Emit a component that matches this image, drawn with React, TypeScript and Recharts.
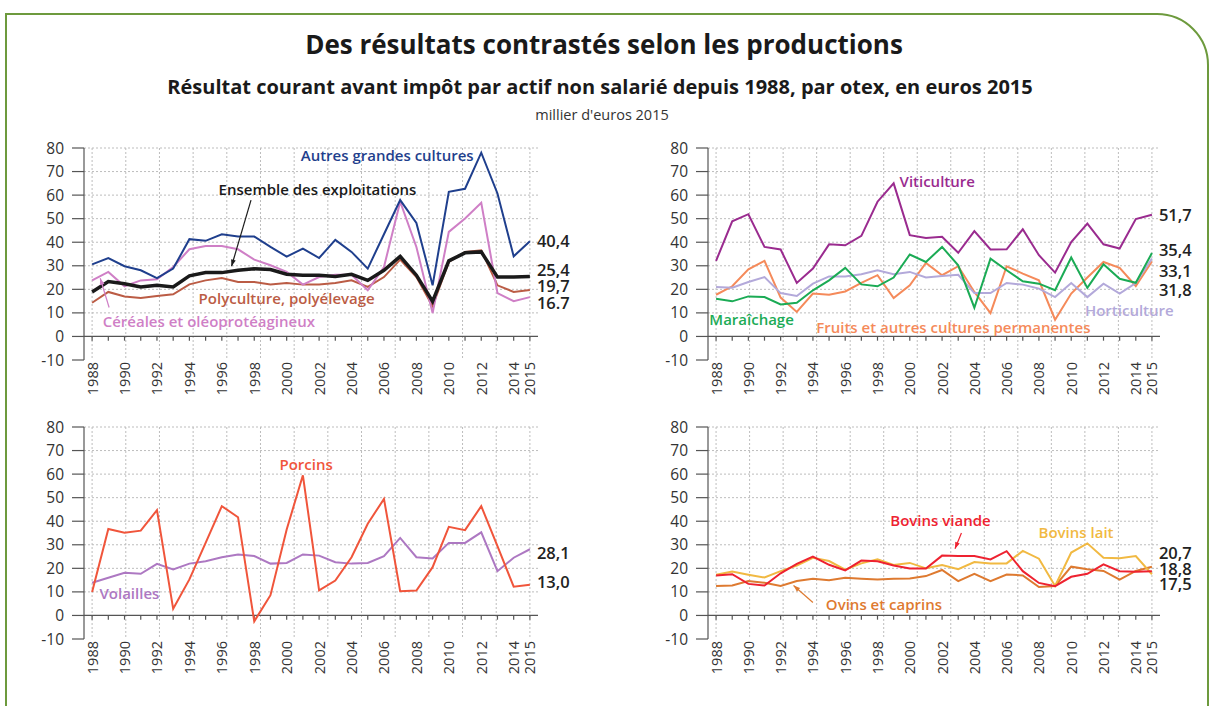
import React from 'react'
import { LineChart, Line, XAxis, YAxis, CartesianGrid, ReferenceLine, ReferenceDot } from 'recharts'

// thousand euros 2015, 1988 -> 2015
const years = [
  1988, 1989, 1990, 1991, 1992, 1993, 1994, 1995, 1996, 1997, 1998, 1999, 2000, 2001,
  2002, 2003, 2004, 2005, 2006, 2007, 2008, 2009, 2010, 2011, 2012, 2013, 2014, 2015,
]
const labelledYears = [1988, 1990, 1992, 1994, 1996, 1998, 2000, 2002, 2004, 2006, 2008, 2010, 2012, 2014, 2015]
const yTicks = [-10, 0, 10, 20, 30, 40, 50, 60, 70, 80]

const autresGrandesCultures = [30.6, 33.3, 29.8, 28.1, 24.8, 28.8, 41.3, 40.6, 43.4, 42.4, 42.4, 38.0, 33.9, 37.3, 33.3, 41.0, 35.9, 28.8, 43.4, 57.9, 48.2, 21.7, 61.4, 62.7, 78.0, 60.7, 34.0, 40.4]
const cereales = [23.8, 27.4, 21.3, 23.8, 24.3, 29.5, 37.0, 38.4, 38.4, 37.0, 32.6, 30.2, 27.4, 22.0, 25.2, 26.2, 26.2, 19.6, 29.5, 57.2, 38.0, 9.9, 44.4, 50.1, 56.7, 18.4, 15.0, 16.7]
const ensemble = [18.9, 23.3, 22.4, 21.0, 21.7, 21.0, 25.7, 27.1, 27.1, 28.1, 28.7, 28.4, 26.4, 26.0, 26.0, 25.5, 26.4, 23.8, 28.1, 34.0, 26.0, 14.9, 32.1, 35.5, 35.9, 25.2, 25.2, 25.4]
const polyculture = [14.3, 18.9, 17.0, 16.3, 17.2, 17.9, 22.1, 23.8, 24.8, 23.1, 23.1, 22.1, 22.7, 22.0, 22.1, 22.7, 23.8, 21.0, 25.2, 32.6, 25.2, 12.9, 31.6, 35.9, 36.6, 21.7, 18.9, 19.7]

const viticulture = [32.1, 48.9, 51.9, 38.0, 36.9, 22.7, 28.8, 39.1, 38.7, 42.7, 57.2, 65.0, 43.0, 41.8, 42.3, 35.5, 44.7, 36.9, 37.0, 45.5, 34.5, 27.1, 40.1, 47.9, 39.1, 37.3, 49.8, 51.7]
const maraichage = [16.0, 14.9, 17.0, 16.7, 13.6, 14.3, 19.6, 23.8, 29.1, 22.1, 21.3, 25.0, 34.8, 31.6, 38.0, 30.2, 12.2, 33.0, 28.1, 23.4, 22.4, 19.6, 33.5, 20.6, 30.6, 24.5, 22.8, 35.4]
const fruits = [17.7, 21.3, 28.5, 32.1, 16.5, 10.4, 18.2, 17.7, 19.1, 22.7, 26.0, 16.3, 21.7, 31.2, 26.0, 29.8, 18.9, 9.9, 29.8, 26.7, 23.8, 7.1, 18.2, 25.0, 31.6, 29.1, 21.4, 31.8]
const horticulture = [21.0, 20.7, 23.1, 25.2, 18.4, 17.2, 22.4, 25.5, 25.5, 26.4, 28.1, 26.4, 27.4, 25.0, 25.7, 26.2, 18.4, 18.4, 22.7, 22.0, 20.3, 16.7, 22.7, 16.7, 22.4, 18.2, 22.7, 33.1]

const porcins = [10.0, 36.7, 35.1, 36.0, 44.7, 2.8, 15.3, 30.8, 46.4, 41.7, -2.5, 8.6, 36.5, 59.5, 10.6, 14.8, 24.7, 38.9, 49.5, 10.3, 10.6, 20.5, 37.6, 36.2, 46.4, 29.4, 12.2, 13.0]
const volailles = [13.9, 16.0, 18.1, 17.7, 21.9, 19.5, 22.0, 23.0, 24.7, 25.9, 25.2, 22.0, 22.3, 25.9, 25.4, 22.6, 22.0, 22.3, 25.2, 32.9, 24.7, 24.2, 30.8, 30.8, 35.3, 18.8, 24.5, 28.1]

const bovinsViande = [17.0, 17.5, 13.4, 12.7, 17.9, 21.9, 25.0, 21.5, 19.1, 23.3, 23.0, 21.2, 19.9, 19.9, 25.4, 25.2, 25.2, 23.8, 27.3, 18.8, 13.8, 12.4, 16.4, 17.7, 21.7, 18.8, 18.6, 18.8]
const bovinsLait = [17.3, 18.6, 17.3, 16.1, 18.8, 21.2, 24.5, 23.1, 19.4, 22.1, 23.8, 21.4, 22.3, 20.0, 21.4, 19.6, 22.7, 22.1, 22.1, 27.4, 24.1, 12.5, 26.7, 30.6, 24.5, 24.3, 25.2, 17.5]
const ovins = [12.5, 12.7, 14.6, 13.9, 12.5, 14.6, 15.6, 14.9, 16.0, 15.6, 15.3, 15.6, 15.7, 16.7, 19.3, 14.6, 17.7, 14.6, 17.4, 17.0, 12.1, 12.5, 20.7, 19.6, 18.9, 15.2, 18.9, 20.7]

const rows = years.map((year, i) => ({
  year,
  agc: autresGrandesCultures[i],
  cer: cereales[i],
  ens: ensemble[i],
  poly: polyculture[i],
  viti: viticulture[i],
  mara: maraichage[i],
  fruit: fruits[i],
  horti: horticulture[i],
  porc: porcins[i],
  vol: volailles[i],
  bv: bovinsViande[i],
  bl: bovinsLait[i],
  ov: ovins[i],
}))

// 14 dotted verticals spread evenly from first to last year, as in the source
const gridX = Array.from({ length: 14 }, (_, i) => 1988 + (i * 27) / 13)
const gridY = [10, 20, 30, 40, 50, 60, 70, 80]

const FONT = "'Open Sans', 'Noto Sans', sans-serif"
const AXIS = '#555'

type Serie = { key: string; color: string; width?: number; end: string; dy: number }
type Note = { text: string; x: number; y: number; color: string }
type Pointer = { from: [number, number]; to: [number, number]; color: string }

const YearTick = (props: any) => {
  const { x, y, payload } = props
  if (!labelledYears.includes(payload.value)) return <g />
  return (
    <text
      x={x}
      y={y}
      transform={`rotate(-90, ${x}, ${y})`}
      textAnchor="end"
      dominantBaseline="central"
      fill="#333"
      fontSize={14.5}
    >
      {payload.value}
    </text>
  )
}

const endLabel = (text: string, dy: number) => (props: any) => {
  const { x, y, index } = props
  if (index !== years.length - 1) return <g />
  return (
    <text x={x + 7} y={y + dy} dominantBaseline="central" fill="#222" fontSize={16.5} fontWeight={600}>
      {text}
    </text>
  )
}

const ArrowShape = (p: any) => {
  const { x1, y1, x2, y2, stroke } = p
  const a = Math.atan2(y2 - y1, x2 - x1)
  const h = 7
  const l = [x2 - h * Math.cos(a - 0.35), y2 - h * Math.sin(a - 0.35)]
  const r = [x2 - h * Math.cos(a + 0.35), y2 - h * Math.sin(a + 0.35)]
  return (
    <g>
      <line x1={x1} y1={y1} x2={x2} y2={y2} stroke={stroke} strokeWidth={1.2} />
      <polygon points={`${x2},${y2} ${l[0]},${l[1]} ${r[0]},${r[1]}`} fill={stroke} />
    </g>
  )
}

function Panel({
  left,
  top,
  width,
  series,
  notes,
  pointers = [],
}: {
  left: number
  top: number
  width: number
  series: Serie[]
  notes: Note[]
  pointers?: Pointer[]
}) {
  return (
    <div style={{ position: 'absolute', left, top }}>
      <LineChart width={width} height={275} data={rows} margin={{ top: 18, right: 50, bottom: 5, left: 14 }}>
        <CartesianGrid stroke="#bdbdbd" strokeDasharray="2 2" horizontalValues={gridY} verticalValues={gridX} />
        <XAxis
          type="number"
          dataKey="year"
          domain={[1987.5, 2015.5]}
          ticks={years}
          interval={0}
          axisLine={false}
          tickLine={false}
          tickSize={0}
          tickMargin={2}
          height={40}
          tick={<YearTick />}
        />
        <YAxis
          domain={[-10, 80]}
          ticks={yTicks}
          interval={0}
          width={50}
          tickSize={12}
          tickMargin={8}
          axisLine={{ stroke: AXIS, strokeWidth: 1.2 }}
          tickLine={{ stroke: AXIS, strokeWidth: 1.2 }}
          tick={{ fill: '#333', fontSize: 15.5 }}
        />
        <ReferenceLine y={0} stroke={AXIS} strokeWidth={1.2} />
        {years.map(yr => (
          <ReferenceLine key={yr} segment={[{ x: yr, y: 0 }, { x: yr, y: -1.8 }]} stroke={AXIS} strokeWidth={1.2} />
        ))}
        {series.map(s => (
          <Line
            key={s.key}
            type="linear"
            dataKey={s.key}
            stroke={s.color}
            strokeWidth={s.width ?? 2}
            dot={false}
            isAnimationActive={false}
            label={endLabel(s.end, s.dy)}
          />
        ))}
        {pointers.map((p, i) => (
          <ReferenceLine
            key={'p' + i}
            segment={[{ x: p.from[0], y: p.from[1] }, { x: p.to[0], y: p.to[1] }]}
            stroke={p.color}
            shape={ArrowShape}
          />
        ))}
        {notes.map(n => (
          <ReferenceDot
            key={n.text}
            x={n.x}
            y={n.y}
            r={1}
            fill="none"
            stroke="none"
            label={{ value: n.text, position: 'center', fill: n.color, fontSize: 15, fontWeight: 600 }}
          />
        ))}
      </LineChart>
    </div>
  )
}

export default function App() {
  return (
    <div style={{ position: 'absolute', left: 0, top: 0, width: 1213, height: 706, background: '#fff', fontFamily: FONT, overflow: 'hidden' }}>
      <div
        style={{
          position: 'absolute',
          left: 5,
          top: 13,
          width: 1204,
          height: 760,
          border: '2.5px solid #6d9a3d',
          borderTopRightRadius: 52,
          boxSizing: 'border-box',
        }}
      />
      <div style={{ position: 'absolute', left: 0, width: 1208, top: 26, textAlign: 'center', fontSize: 26, fontWeight: 700, color: '#1a1a1a' }}>
        Des résultats contrastés selon les productions
      </div>
      <div style={{ position: 'absolute', left: 0, width: 1200, top: 73, textAlign: 'center', fontSize: 20, fontWeight: 700, color: '#1a1a1a' }}>
        Résultat courant avant impôt par actif non salarié depuis 1988, par otex, en euros 2015
      </div>
      <div style={{ position: 'absolute', left: 0, width: 1204, top: 105, textAlign: 'center', fontSize: 14.5, color: '#333' }}>
        millier d'euros 2015
      </div>

      <Panel
        left={20}
        top={130}
        width={568}
        series={[
          { key: 'poly', color: '#bb5c45', end: '19,7', dy: -5 },
          { key: 'cer', color: '#cf7fc6', end: '16.7', dy: 5 },
          { key: 'agc', color: '#1f3f8d', end: '40,4', dy: -1 },
          { key: 'ens', color: '#1a1a1a', width: 3.5, end: '25,4', dy: -7 },
        ]}
        notes={[
          { text: 'Autres grandes cultures', x: 2006.2, y: 76.6, color: '#1f3f8d' },
          { text: 'Ensemble des exploitations', x: 2001.9, y: 62.1, color: '#1a1a1a' },
          { text: 'Polyculture, polyélevage', x: 2000.0, y: 16.2, color: '#bb5c45' },
          { text: 'Céréales et oléoprotéagineux', x: 1995.2, y: 6.4, color: '#cf7fc6' },
        ]}
        pointers={[
          { from: [1997.8, 57.9], to: [1996.6, 29.8], color: '#1a1a1a' },
          { from: [1989.05, 12.3], to: [1988.5, 24.7], color: '#cf7fc6' },
        ]}
      />

      <Panel
        left={644}
        top={130}
        width={566}
        series={[
          { key: 'fruit', color: '#f58a5a', end: '31,8', dy: 28 },
          { key: 'horti', color: '#b3a9da', end: '33,1', dy: 12 },
          { key: 'mara', color: '#1bab55', end: '35,4', dy: -4 },
          { key: 'viti', color: '#9a2b8f', end: '51,7', dy: 0 },
        ]}
        notes={[
          { text: 'Viticulture', x: 2001.7, y: 65.5, color: '#9a2b8f' },
          { text: 'Maraîchage', x: 1990.2, y: 7.2, color: '#1bab55' },
          { text: 'Fruits et autres cultures permanentes', x: 2002.7, y: 3.8, color: '#f58a5a' },
          { text: 'Horticulture', x: 2013.6, y: 11.1, color: '#b3a9da' },
        ]}
      />

      <Panel
        left={20}
        top={409}
        width={568}
        series={[
          { key: 'vol', color: '#ad78c2', end: '28,1', dy: 3 },
          { key: 'porc', color: '#f0553b', end: '13,0', dy: -3 },
        ]}
        notes={[
          { text: 'Porcins', x: 2001.2, y: 64.0, color: '#f0553b' },
          { text: 'Volailles', x: 1990.3, y: 9.3, color: '#ad78c2' },
        ]}
      />

      <Panel
        left={644}
        top={409}
        width={566}
        series={[
          { key: 'ov', color: '#de7a30', end: '20,7', dy: -14.5 },
          { key: 'bl', color: '#f1b942', end: '17,5', dy: 9 },
          { key: 'bv', color: '#ee2230', end: '18,8', dy: -3 },
        ]}
        notes={[
          { text: 'Bovins viande', x: 2001.9, y: 40.3, color: '#ee2230' },
          { text: 'Bovins lait', x: 2010.3, y: 35.2, color: '#f1b942' },
          { text: 'Ovins et caprins', x: 1998.4, y: 4.7, color: '#de7a30' },
        ]}
        pointers={[
          { from: [2003.2, 35.0], to: [2002.8, 28.3], color: '#ee2230' },
          { from: [1994.0, 5.5], to: [1992.8, 12.7], color: '#de7a30' },
        ]}
      />
    </div>
  )
}
